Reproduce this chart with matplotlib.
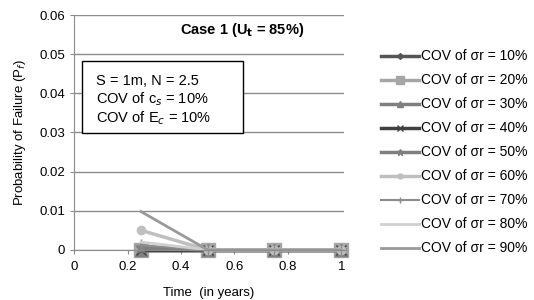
import matplotlib
matplotlib.use("Agg")
import matplotlib.pyplot as plt
from matplotlib.patches import Rectangle

plt.rcParams['font.family'] = ['Liberation Sans', 'DejaVu Sans']

time_years = [0.25, 0.5, 0.75, 1.0]
cov_labels = ['10%', '20%', '30%', '40%', '50%', '60%', '70%', '80%', '90%']
pf = {
    '10%': [0.0, 0.0, 0.0, 0.0],
    '20%': [0.0, 0.0, 0.0, 0.0],
    '30%': [0.0, 0.0, 0.0, 0.0],
    '40%': [0.0, 0.0, 0.0, 0.0],
    '50%': [0.0005, 0.0, 0.0, 0.0],
    '60%': [0.005, 0.0, 0.0, 0.0],
    '70%': [0.0012, 0.0, 0.0, 0.0],
    '80%': [0.002, 0.0, 0.0, 0.0],
    '90%': [0.0098, 0.0, 0.0, 0.0],
}

styles = [
    dict(color='#555555', marker='D', ms=5, lw=2.5),
    dict(color='#a6a6a6', marker='s', ms=10, lw=2.5),
    dict(color='#7f7f7f', marker='^', ms=8, lw=2.5),
    dict(color='#404040', marker='x', ms=7, lw=2.5),
    dict(color='#7f7f7f', marker='*', ms=8, lw=2.5),
    dict(color='#bfbfbf', marker='o', ms=6, lw=2.5),
    dict(color='#8c8c8c', marker='+', ms=8, lw=1.5),
    dict(color='#d0d0d0', marker=None, lw=2),
    dict(color='#999999', marker=None, lw=2),
]

fig = plt.figure(figsize=(5.34, 3.0), dpi=100)
ax = fig.add_axes([0.139, 0.167, 0.505, 0.783])

for lab, st in zip(cov_labels, styles):
    ax.plot(time_years, pf[lab], label='COV of σr = ' + lab, clip_on=False, **st)

ax.set_xlim(0, 1.01)
ax.set_ylim(0, 0.06)
ax.set_xticks([0, 0.2, 0.4, 0.6, 0.8, 1])
ax.set_xticklabels(['0', '0.2', '0.4', '0.6', '0.8', '1'])
ax.set_yticks([0, 0.01, 0.02, 0.03, 0.04, 0.05, 0.06])
ax.set_yticklabels(['0', '0.01', '0.02', '0.03', '0.04', '0.05', '0.06'])
ax.yaxis.grid(True, color='#8c8c8c', lw=1)
ax.set_axisbelow(True)
for s in ['top', 'right']:
    ax.spines[s].set_visible(False)
ax.spines['left'].set_color('#8c8c8c')
ax.spines['bottom'].set_color('#8c8c8c')
ax.tick_params(axis='both', labelsize=9.5, color='#8c8c8c', length=3)
ax.tick_params(axis='x', pad=5)
ax.set_xlabel('Time  (in years)', fontsize=9.5, labelpad=10)
ax.set_ylabel('Probability of Failure (P$_f$)', fontsize=9.5, labelpad=8)

ax.text(0.622, 0.936, 'Case 1 (U$_\\mathbf{t}$ = 85%)', transform=ax.transAxes,
        ha='center', va='center', fontsize=10.5, fontweight='bold')
ax.add_patch(Rectangle((0.030, 0.498), 0.597, 0.306, transform=ax.transAxes,
                       fc='white', ec='black', lw=1, zorder=5))
box_lines = ['S = 1m, N = 2.5', 'COV of c$_s$ = 10%', 'COV of E$_c$ = 10%']
for i, line in enumerate(box_lines):
    ax.text(0.082, 0.72 - i * 0.08, line, transform=ax.transAxes,
            ha='left', va='center', fontsize=10.5, zorder=6)

ax.legend(loc='center left', bbox_to_anchor=(1.138, 0.415), frameon=False,
          borderaxespad=0, borderpad=0, markerscale=0.6,
          fontsize=10, handlelength=2.75, handletextpad=0.15, labelspacing=0.72)

fig.savefig('out.png', dpi=100)
